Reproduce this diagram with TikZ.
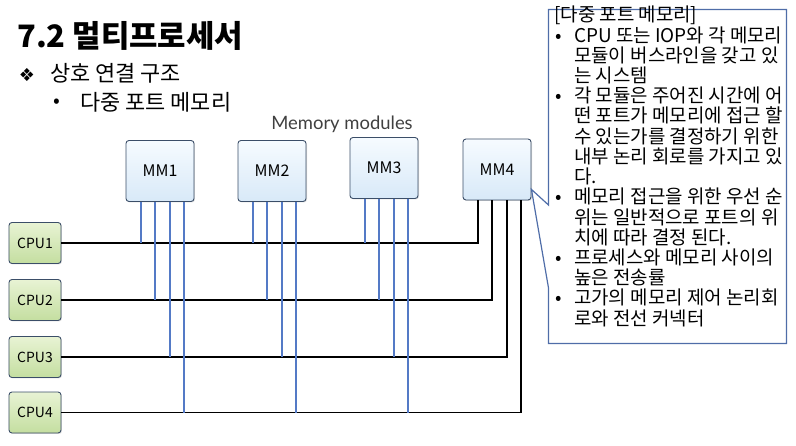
\documentclass[tikz,border=0pt]{standalone}
\usepackage{fontspec}
\setmainfont{Noto Sans CJK KR}
\newfontfamily\symfont{DejaVu Sans}
\newfontfamily\labelfont{Lato}
\usepackage{tikz}
\usetikzlibrary{positioning, calc, shadows}

\definecolor{boxline}{RGB}{59,78,104}
\definecolor{wireblue}{RGB}{84,122,198}
\definecolor{notecolor}{RGB}{79,109,168}
\definecolor{mmtop}{RGB}{246,251,255}
\definecolor{mmbot}{RGB}{216,233,248}
\definecolor{cputop}{RGB}{232,243,212}
\definecolor{cpubot}{RGB}{196,222,160}

\newcommand{\bul}{\makebox[20pt][l]{\hspace{1pt}•}}
\newcommand{\ind}{\hspace*{20pt}}

\begin{document}
\begin{tikzpicture}[
    x=1bp, y=-1bp,
    module/.style={rectangle, rounded corners=3pt, draw=boxline, line width=0.9pt, top color=mmtop, bottom color=mmbot, minimum width=68bp, minimum height=61bp, inner sep=0pt, font=\fontsize{16}{16}\selectfont, drop shadow={opacity=0.25, shadow xshift=1pt, shadow yshift=-1pt}},
    cpu/.style={rectangle, rounded corners=3pt, draw=boxline, line width=0.9pt, top color=cputop, bottom color=cpubot, minimum width=52bp, minimum height=41bp, inner sep=0pt, font=\fontsize{14}{14}\selectfont, drop shadow={opacity=0.25, shadow xshift=1pt, shadow yshift=-1pt}},
    wire/.style={wireblue, line width=1.5bp},
    bus/.style={black, line width=1.5bp},
    notetext/.style={anchor=north west, inner sep=0pt, align=left, font=\fontsize{19}{20.3}\selectfont},
    callout/.style={draw=notecolor, line width=1.2bp, line join=miter}
]
\useasboundingbox (0,0) rectangle (796,446);

% Title and bullets
\node[anchor=base west, inner sep=0pt, font=\fontsize{31}{31}\selectfont\bfseries] (title) at (17,48) {7.2 멀티프로세서};
\node[inner sep=0pt, font=\symfont\fontsize{18}{18}\selectfont] (dia) at (27,75) {❖};
\node[anchor=base west, inner sep=0pt, font=\fontsize{22}{22}\selectfont] (topic) at (50,82) {상호 연결 구조};
\node[inner sep=0pt, font=\fontsize{20}{20}\selectfont] (dot) at (57,103) {•};
\node[anchor=base west, inner sep=0pt, font=\fontsize{22}{22}\selectfont] (subtopic) at (80,111) {다중 포트 메모리};

% Memory modules
\node[anchor=base, inner sep=0pt, text=black!75, font=\labelfont\fontsize{18.5}{18.5}\selectfont] (mmlabel) at (342,130) {Memory modules};
\node[module] (mm1) at (160,171) {MM1};
\node[module] (mm2) at (272,171) {MM2};
\node[module] (mm3) at (384,168) {MM3};
\node[module] (mm4) at (497,169.5) {MM4};

% CPUs
\foreach \c/\y in {1/243, 2/300, 3/357, 4/412.5} {
    \node[cpu] (cpu\c) at (35,\y) {CPU\c};
}

% CPU buses to MM4
\foreach \c/\off in {1/15.5, 2/29.5, 3/44.5, 4/58.5} {
    \draw[bus] (cpu\c.east) -| ($(mm4.south west)+(\off,0)$);
}

% ports of MM1 - MM3
\foreach \m in {1,2,3} {
    \foreach \c/\off in {1/15.5, 2/29.5, 3/44.5, 4/58.5} {
        \draw[wire] ($(mm\m.south west)+(\off,0)$) coordinate (w\m\c) -- (w\m\c |- cpu\c.east);
    }
}

% Callout
\coordinate (tip) at ($(mm4.south east)+(0,-11)$);
\draw[callout] (548.5,205) -- (548.5,9.5) -- (786.5,9.5) -- (786.5,343.5) -- (548.5,343.5) -- (548.5,288) -- (tip) -- cycle;
\node[notetext] (note) at (554,6) {[다중 포트 메모리]\\
\bul CPU 또는 IOP와 각 메모리\\
\ind 모듈이 버스라인을 갖고 있\\
\ind 는 시스템\\
\bul 각 모듈은 주어진 시간에 어\\
\ind 떤 포트가 메모리에 접근 할\\
\ind 수 있는가를 결정하기 위한\\
\ind 내부 논리 회로를 가지고 있\\
\ind 다.\\
\bul 메모리 접근을 위한 우선 순\\
\ind 위는 일반적으로 포트의 위\\
\ind 치에 따라 결정 된다.\\
\bul 프로세스와 메모리 사이의\\
\ind 높은 전송률\\
\bul 고가의 메모리 제어 논리회\\
\ind 로와 전선 커넥터};

\end{tikzpicture}
\end{document}
